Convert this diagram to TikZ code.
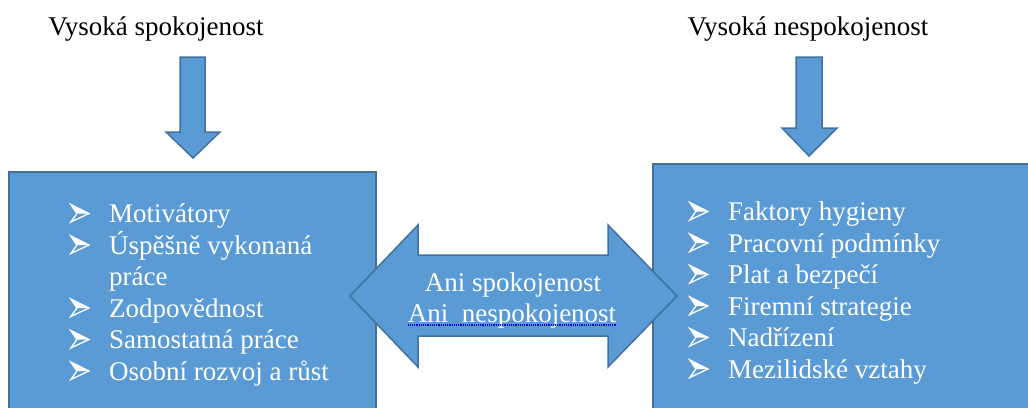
\documentclass[tikz,border=0pt]{standalone}
\usepackage{fontspec}
\setmainfont{Liberation Serif}
\usepackage{tikz}
\usetikzlibrary{positioning}
\definecolor{boxblue}{HTML}{5B9BD5}
\definecolor{edgeblue}{HTML}{41719C}
\newcommand{\bul}{\makebox[39pt][l]{\tikz[baseline=0pt, x=1pt, y=1pt]{\fill[white] (0,18) -- (18,9) -- (6,9) -- cycle; \draw[white, line width=1.3pt, line join=miter] (0,18) -- (18,9) -- (0,0.5) -- (6,9) -- cycle;}}}
\newcommand{\noindentbul}{\hspace*{39pt}}

\begin{document}
\begin{tikzpicture}[x=1pt, y=-1pt,
				blockshape/.style={fill=boxblue, draw=edgeblue, line width=1.5pt, line join=miter},
				title/.style={font=\fontsize{27}{31.5}\selectfont, inner sep=0pt},
				list/.style={text=white, align=left, font=\fontsize{27}{31.5}\selectfont, inner sep=0pt}]
				\useasboundingbox (0,0) rectangle (1028,407);
				
				\node[title, anchor=base](highsat) at (156,35) {Vysoká spokojenost};
				\node[title, anchor=base](highdissat) at (808,35) {Vysoká nespokojenost};
				
				\draw[blockshape] (180,57) -- (205,57) -- (205,132) -- (220,132) -- (193,158) -- (166,132) -- (180,132) -- cycle;
				\draw[blockshape] (796,57) -- (822,57) -- (822,128) -- (837,128) -- (809,156) -- (782,128) -- (796,128) -- cycle;
				
				\draw[blockshape] (9,172) rectangle (376,425);
				\draw[blockshape] (653,164) rectangle (1040,425);
				
				\draw[blockshape] (350,296) -- (418,225) -- (418,255) -- (608,255) -- (608,225) -- (677,296) -- (608,367) -- (608,336) -- (418,336) -- (418,367) -- cycle;
				
				\node[list, anchor=base west](motlist) at (70,380) {\bul Motivátory\\\bul Úspěšně vykonaná\\\noindentbul práce\\\bul Zodpovědnost\\\bul Samostatná práce\\\bul Osobní rozvoj a růst};
				\node[list, anchor=base west](hyglist) at (689,378) {\bul Faktory hygieny\\\bul Pracovní podmínky\\\bul Plat a bezpečí\\\bul Firemní strategie\\\bul Nadřízení\\\bul Mezilidské vztahy};
				
				\node[list, align=center, anchor=base](neither1) at (513,291) {Ani spokojenost};
				\node[list, align=center, anchor=base](neither2) at (512,322) {Ani\ \ nespokojenost};
				\draw[blue, densely dotted, line width=1.2pt] ([yshift=-3pt]neither2.base west) -- ([yshift=-3pt]neither2.base east);
				
			\end{tikzpicture}
\end{document}
